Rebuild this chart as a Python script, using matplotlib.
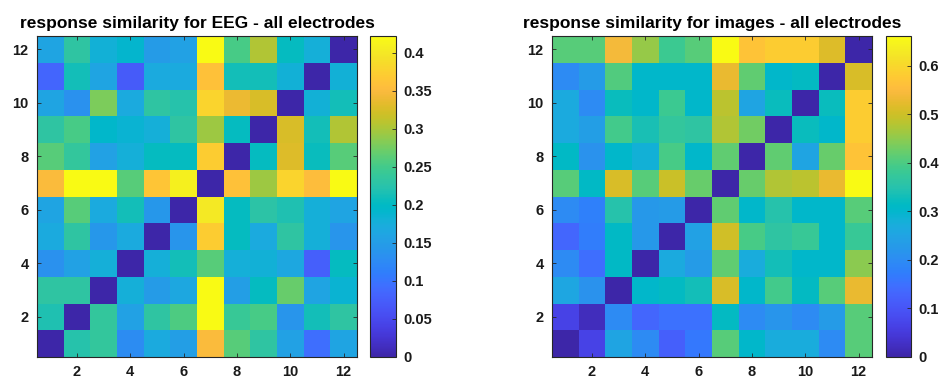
import numpy as np
import matplotlib
matplotlib.use("Agg")
import matplotlib.pyplot as plt
from matplotlib.colors import LinearSegmentedColormap

plt.rcParams['font.family'] = ['Liberation Sans', 'DejaVu Sans']

# parula-like colormap anchors
parula_data = [
    [0.2422, 0.1504, 0.6603], [0.2504, 0.1650, 0.7076], [0.2578, 0.1818, 0.7511],
    [0.2647, 0.1978, 0.7952], [0.2706, 0.2147, 0.8364], [0.2751, 0.2342, 0.8710],
    [0.2783, 0.2559, 0.8991], [0.2803, 0.2782, 0.9221], [0.2813, 0.3006, 0.9414],
    [0.2810, 0.3228, 0.9579], [0.2795, 0.3447, 0.9717], [0.2760, 0.3667, 0.9829],
    [0.2699, 0.3892, 0.9906], [0.2602, 0.4123, 0.9952], [0.2440, 0.4358, 0.9988],
    [0.2206, 0.4603, 0.9973], [0.1963, 0.4847, 0.9892], [0.1834, 0.5074, 0.9798],
    [0.1786, 0.5289, 0.9682], [0.1764, 0.5499, 0.9520], [0.1687, 0.5703, 0.9359],
    [0.1540, 0.5902, 0.9218], [0.1460, 0.6091, 0.9079], [0.1380, 0.6276, 0.8973],
    [0.1248, 0.6459, 0.8883], [0.1113, 0.6635, 0.8763], [0.0952, 0.6798, 0.8598],
    [0.0689, 0.6948, 0.8394], [0.0297, 0.7082, 0.8163], [0.0036, 0.7203, 0.7917],
    [0.0067, 0.7312, 0.7660], [0.0433, 0.7411, 0.7394], [0.0964, 0.7500, 0.7120],
    [0.1408, 0.7584, 0.6842], [0.1717, 0.7670, 0.6554], [0.1938, 0.7758, 0.6251],
    [0.2161, 0.7843, 0.5923], [0.2470, 0.7918, 0.5567], [0.2906, 0.7973, 0.5188],
    [0.3406, 0.8008, 0.4789], [0.3909, 0.8029, 0.4354], [0.4456, 0.8024, 0.3909],
    [0.5044, 0.7993, 0.3480], [0.5616, 0.7942, 0.3045], [0.6174, 0.7876, 0.2612],
    [0.6720, 0.7793, 0.2227], [0.7242, 0.7698, 0.1910], [0.7738, 0.7598, 0.1646],
    [0.8203, 0.7498, 0.1535], [0.8634, 0.7406, 0.1596], [0.9035, 0.7330, 0.1774],
    [0.9393, 0.7288, 0.2100], [0.9728, 0.7298, 0.2394], [0.9956, 0.7434, 0.2371],
    [0.9970, 0.7659, 0.2199], [0.9952, 0.7893, 0.2028], [0.9892, 0.8136, 0.1885],
    [0.9786, 0.8386, 0.1766], [0.9676, 0.8639, 0.1643], [0.9610, 0.8890, 0.1537],
    [0.9597, 0.9135, 0.1423], [0.9628, 0.9373, 0.1265], [0.9691, 0.9606, 0.1064],
    [0.9769, 0.9839, 0.0805]]
parula = LinearSegmentedColormap.from_list("parula", parula_data, N=256)

electrodes = list(range(1, 13))
tick_labels = [2, 4, 6, 8, 10, 12]

# rows listed from electrode 1 (bottom) to 12 (top)
eeg_similarity = [
    [0.000, 0.224, 0.236, 0.127, 0.169, 0.152, 0.350, 0.262, 0.232, 0.156, 0.093, 0.160],  # 1
    [0.219, 0.000, 0.236, 0.156, 0.232, 0.257, 0.422, 0.241, 0.253, 0.139, 0.211, 0.232],  # 2
    [0.232, 0.232, 0.000, 0.177, 0.148, 0.165, 0.422, 0.152, 0.203, 0.270, 0.160, 0.186],  # 3
    [0.135, 0.156, 0.177, 0.000, 0.177, 0.211, 0.262, 0.177, 0.181, 0.165, 0.076, 0.203],  # 4
    [0.169, 0.232, 0.143, 0.169, 0.000, 0.139, 0.371, 0.203, 0.169, 0.232, 0.177, 0.139],  # 5
    [0.160, 0.262, 0.169, 0.211, 0.143, 0.000, 0.401, 0.203, 0.228, 0.219, 0.177, 0.160],  # 6
    [0.350, 0.422, 0.422, 0.262, 0.363, 0.409, 0.000, 0.359, 0.295, 0.380, 0.354, 0.422],  # 7
    [0.262, 0.236, 0.156, 0.177, 0.203, 0.203, 0.371, 0.000, 0.203, 0.329, 0.207, 0.262],  # 8
    [0.232, 0.253, 0.194, 0.186, 0.177, 0.232, 0.295, 0.203, 0.000, 0.325, 0.211, 0.304],  # 9
    [0.160, 0.135, 0.279, 0.169, 0.232, 0.224, 0.380, 0.338, 0.325, 0.000, 0.181, 0.211],  # 10
    [0.084, 0.211, 0.160, 0.072, 0.169, 0.169, 0.359, 0.211, 0.211, 0.181, 0.000, 0.181],  # 11
    [0.160, 0.232, 0.181, 0.190, 0.148, 0.156, 0.422, 0.253, 0.304, 0.203, 0.177, 0.000],  # 12
]

image_similarity = [
    [0.000, 0.066, 0.251, 0.198, 0.119, 0.165, 0.410, 0.304, 0.271, 0.271, 0.198, 0.410],  # 1
    [0.066, 0.020, 0.198, 0.132, 0.152, 0.152, 0.317, 0.198, 0.218, 0.198, 0.231, 0.410],  # 2
    [0.258, 0.212, 0.000, 0.304, 0.317, 0.331, 0.509, 0.304, 0.390, 0.317, 0.410, 0.529],  # 3
    [0.198, 0.145, 0.311, 0.000, 0.264, 0.231, 0.416, 0.271, 0.331, 0.304, 0.304, 0.449],  # 4
    [0.132, 0.172, 0.311, 0.225, 0.000, 0.245, 0.502, 0.397, 0.364, 0.377, 0.304, 0.377],  # 5
    [0.198, 0.178, 0.350, 0.225, 0.231, 0.000, 0.416, 0.304, 0.350, 0.304, 0.304, 0.410],  # 6
    [0.410, 0.311, 0.509, 0.410, 0.496, 0.423, 0.000, 0.423, 0.476, 0.483, 0.529, 0.661],  # 7
    [0.311, 0.212, 0.304, 0.284, 0.397, 0.304, 0.416, 0.000, 0.416, 0.251, 0.423, 0.568],  # 8
    [0.264, 0.238, 0.390, 0.337, 0.370, 0.364, 0.476, 0.430, 0.000, 0.324, 0.304, 0.582],  # 9
    [0.264, 0.198, 0.324, 0.304, 0.383, 0.304, 0.483, 0.251, 0.324, 0.000, 0.324, 0.582],  # 10
    [0.198, 0.231, 0.403, 0.304, 0.304, 0.304, 0.529, 0.416, 0.304, 0.317, 0.000, 0.509],  # 11
    [0.410, 0.410, 0.542, 0.456, 0.383, 0.410, 0.661, 0.568, 0.582, 0.582, 0.516, 0.000],  # 12
]

panels = [
    ("response similarity for EEG - all electrodes", eeg_similarity,
     [0, 0.05, 0.1, 0.15, 0.2, 0.25, 0.3, 0.35, 0.4]),
    ("response similarity for images - all electrodes", image_similarity,
     [0, 0.1, 0.2, 0.3, 0.4, 0.5, 0.6]),
]

W, H = 939, 381
fig = plt.figure(figsize=(W / 100, H / 100), dpi=100)

ax_boxes = [(37, 36, 320, 321), (552, 36, 320, 321)]
cb_boxes = [(370, 36, 26, 321), (886, 36, 25, 321)]

edge = '#262626'
for (title, data, cticks), (ax_x, ax_y, ax_w, ax_h), (cx, cy, cw, ch) in zip(panels, ax_boxes, cb_boxes):
    ax = fig.add_axes([ax_x / W, 1 - (ax_y + ax_h) / H, ax_w / W, ax_h / H])
    arr = np.array(data)
    im = ax.imshow(arr, cmap=parula, origin='lower', aspect='auto',
                   extent=[0.5, 12.5, 0.5, 12.5], interpolation='nearest',
                   vmin=0, vmax=arr.max())
    ax.set_xticks(tick_labels)
    ax.set_yticks(tick_labels)
    ax.set_xticklabels([str(t) for t in tick_labels], fontweight='bold', fontsize=10.5)
    ax.set_yticklabels([str(t) for t in tick_labels], fontweight='bold', fontsize=10.5)
    ax.tick_params(direction='in', length=3, width=0.6, top=True, right=True,
                   colors=edge, labelcolor='#1a1a1a', pad=6)
    for s in ax.spines.values():
        s.set_color(edge)
        s.set_linewidth(0.8)
    ax.set_title(title, fontsize=12.5, fontweight='bold', pad=6)

    cax = fig.add_axes([cx / W, 1 - (cy + ch) / H, cw / W, ch / H])
    cb = fig.colorbar(im, cax=cax)
    cb.set_ticks(cticks)
    cb.set_ticklabels([('%g' % t) for t in cticks])
    cax.tick_params(direction='in', length=3, width=0.6, colors=edge, labelcolor='#1a1a1a',
                    labelsize=10.5, pad=5)
    for lbl in cax.get_yticklabels():
        lbl.set_fontweight('bold')
    cb.outline.set_edgecolor(edge)
    cb.outline.set_linewidth(0.8)

fig.savefig("out.png", dpi=100)
